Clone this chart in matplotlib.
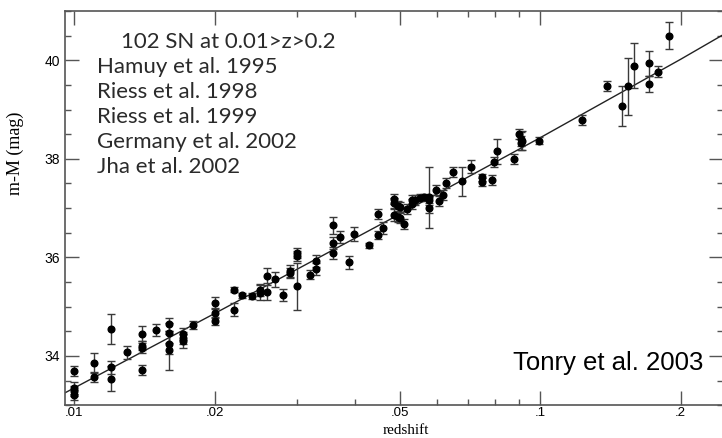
import matplotlib
matplotlib.use("Agg")
import matplotlib.pyplot as plt
from matplotlib.ticker import FixedLocator, FixedFormatter, MultipleLocator

# values
redshift = [0.0100, 0.0100, 0.0100, 0.0100,
            0.0110, 0.0110,
            0.0120, 0.0120, 0.0120,
            0.0130,
            0.0140, 0.0140, 0.0140, 0.0140,
            0.0150,
            0.0160, 0.0160, 0.0160, 0.0160,
            0.0171, 0.0171, 0.0171,
            0.0180,
            0.0200, 0.0200, 0.0200,
            0.0220, 0.0220,
            0.0229,
            0.0240,
            0.0250, 0.0250,
            0.0259, 0.0259,
            0.0270,
            0.0281,
            0.0290, 0.0290,
            0.0300, 0.0300, 0.0300,
            0.0321,
            0.0330, 0.0330,
            0.0359, 0.0359, 0.0359,
            0.0371,
            0.0389,
            0.0399,
            0.0429,
            0.0449, 0.0449,
            0.0459,
            0.0486, 0.0486, 0.0486,
            0.0494, 0.0494,
            0.0501, 0.0501,
            0.0509,
            0.0517,
            0.0529, 0.0529,
            0.0538,
            0.0551,
            0.0564,
            0.0577, 0.0577, 0.0577,
            0.0597,
            0.0607,
            0.0617,
            0.0627,
            0.0649,
            0.0679,
            0.0708,
            0.0749, 0.0749,
            0.0789,
            0.0796,
            0.0807,
            0.0878,
            0.0899,
            0.0909, 0.0909,
            0.0915,
            0.0995,
            0.123,
            0.139,
            0.150,
            0.154,
            0.159,
            0.171, 0.171,
            0.179,
            0.189]

dist_mod = [33.69, 33.35, 33.29, 33.20,
            33.86, 33.57,
            34.55, 33.77, 33.54,
            34.07,
            34.45, 34.21, 34.16, 33.72,
            34.53,
            34.64, 34.47, 34.24, 34.11,
            34.45, 34.36, 34.30,
            34.62,
            35.07, 34.87, 34.70,
            35.34, 34.94,
            35.23,
            35.21,
            35.33, 35.28,
            35.63, 35.29,
            35.55,
            35.24,
            35.73, 35.68,
            36.09, 36.02, 35.41,
            35.65,
            35.92, 35.76,
            36.65, 36.29, 36.09,
            36.41,
            35.90,
            36.48,
            36.24,
            36.88, 36.45,
            36.59,
            37.19, 37.11, 36.86,
            37.05, 36.82,
            37.02, 36.80,
            36.68,
            36.98,
            37.16, 37.09,
            37.17,
            37.21,
            37.22,
            37.22, 37.17, 37.00,
            37.37,
            37.15,
            37.27,
            37.51,
            37.74,
            37.54,
            37.84,
            37.62, 37.53,
            37.57,
            37.93,
            38.15,
            38.00,
            38.51,
            38.32, 38.40,
            38.37,
            38.37,
            38.79,
            39.47,
            39.07,
            39.47,
            39.89,
            39.94, 39.52,
            39.77,
            40.50]

dist_err = [0.10, 0.12, 0.10, 0.10,
            0.20, 0.10,
            0.30, 0.13, 0.25,
            0.13,
            0.15, 0.10, 0.10, 0.10,
            0.12,
            0.13, 0.20, 0.20, 0.40,
            0.12, 0.12, 0.15,
            0.08,
            0.12, 0.10, 0.08,
            0.05, 0.13,
            0.05,
            0.06,
            0.12, 0.15,
            0.15, 0.15,
            0.15,
            0.12,
            0.12, 0.10,
            0.10, 0.10, 0.47,
            0.10,
            0.12, 0.12,
            0.17, 0.12, 0.12,
            0.12,
            0.13,
            0.14,
            0.05,
            0.10, 0.08,
            0.12,
            0.10, 0.10, 0.12,
            0.10, 0.10,
            0.10, 0.10,
            0.10,
            0.10,
            0.10, 0.10,
            0.10,
            0.07,
            0.07,
            0.62, 0.10, 0.10,
            0.10,
            0.10,
            0.10,
            0.10,
            0.10,
            0.30,
            0.13,
            0.08, 0.08,
            0.10,
            0.10,
            0.25,
            0.10,
            0.10,
            0.15, 0.15,
            0.20,
            0.08,
            0.10,
            0.10,
            0.40,
            0.58,
            0.45,
            0.25, 0.17,
            0.12,
            0.27]

# fitted Hubble relation, read at a few redshifts
line_z = [0.00955, 0.01, 0.02, 0.05, 0.1, 0.2, 0.25]
line_mu = [33.25, 33.35, 34.86, 36.88, 38.43, 40.02, 40.55]

xmajor = [0.01, 0.02, 0.05, 0.1, 0.2]
xmajor_labels = [".01", ".02", ".05", ".1", ".2"]
xminor = [0.03, 0.04, 0.06, 0.07, 0.08, 0.09]

sources = ["Hamuy et al. 1995", "Riess et al. 1998", "Riess et al. 1999",
           "Germany et al. 2002", "Jha et al. 2002"]

fig = plt.figure(figsize=(7.22, 4.38), dpi=100)
ax = fig.add_axes([0.09, 0.075, 0.912, 0.90])

ax.plot(line_z, line_mu, color="#222222", lw=1.0, zorder=2)
ax.errorbar(redshift, dist_mod, yerr=dist_err, fmt="o", color="black",
            ms=4.8, ecolor="#3a3a3a", elinewidth=1.0, capsize=3, capthick=1.0,
            zorder=3)

ax.set_xscale("log")
ax.set_xlim(0.00955, 0.247)
ax.set_ylim(33.0, 41.0)

ax.xaxis.set_major_locator(FixedLocator(xmajor))
ax.xaxis.set_major_formatter(FixedFormatter(xmajor_labels))
ax.xaxis.set_minor_locator(FixedLocator(xminor))
ax.xaxis.set_minor_formatter(FixedFormatter([]))
ax.yaxis.set_major_locator(MultipleLocator(2))
ax.yaxis.set_minor_locator(MultipleLocator(0.5))

ax.tick_params(which="both", direction="in", top=True, right=True,
               colors="#555555", labelcolor="black", width=1.0)
ax.tick_params(which="major", length=10, labelsize=10)
ax.tick_params(axis="x", which="major", pad=1.5, labelsize=9.5)
ax.tick_params(which="minor", length=4)
for lab in ax.get_xticklabels() + ax.get_yticklabels():
    lab.set_family("Liberation Sans")
for sp in ax.spines.values():
    sp.set_color("#555555")
    sp.set_linewidth(1.2)

ax.set_xlabel("redshift", family="Liberation Serif", fontsize=11)
ax.xaxis.set_label_coords(0.518, -0.074)
ax.xaxis.label.set_va("baseline")
ax.set_ylabel("m-M (mag)", family="Liberation Serif", fontsize=13)
ax.yaxis.set_label_coords(-0.062, 0.64)

# sample list in the upper left
ax.text(0.085, 0.921, "102 SN at 0.01>z>0.2", transform=ax.transAxes,
        family="Lato", fontsize=16, color="#2a2a2a", va="center")
for i, s in enumerate(sources):
    ax.text(0.049, 0.858 - i * 0.0635, s, transform=ax.transAxes,
            family="Lato", fontsize=16, color="#2a2a2a", va="center")

ax.text(0.970, 0.107, "Tonry et al. 2003", transform=ax.transAxes,
        family="Liberation Sans", fontsize=18.5, ha="right", va="center")

fig.savefig("out.png", dpi=100)
